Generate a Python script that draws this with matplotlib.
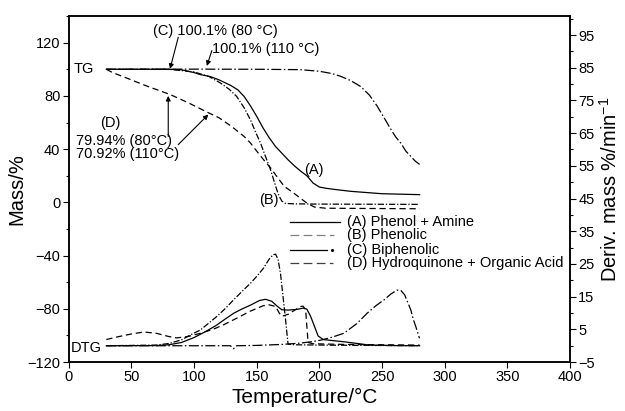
import matplotlib
matplotlib.use("Agg")
import matplotlib.pyplot as plt
import numpy as np

plt.rcParams['font.family'] = ['Liberation Sans', 'DejaVu Sans']
plt.rcParams['mathtext.fontset'] = 'custom'
plt.rcParams['mathtext.rm'] = 'Liberation Sans'

# ---------------- TG data (left axis, Mass/%) ----------------
tgA_x = [30, 80, 90, 100, 105, 113, 120, 129, 135, 140, 145, 150, 155, 160, 165, 170, 175, 180, 185, 190, 195, 200, 206, 215, 225, 250, 280]
tgA_y = [100, 100, 99.6, 97.5, 96, 94.5, 92, 88, 84.5, 79.5, 72.5, 64.6, 56, 48.5, 42, 37, 32, 27.5, 23.5, 20, 14.5, 11.5, 10.5, 9.4, 8.3, 6.5, 5.8]

tgB_x = [30, 80, 100, 112, 121, 128, 134, 140, 145, 149, 153, 157, 161, 164, 166, 168, 170, 173, 180, 200, 240, 280]
tgB_y = [100, 100, 98, 94.5, 89.7, 85, 79.6, 71, 62, 53, 44.6, 34.5, 24.6, 15.5, 9.5, 4.5, 1, -0.8, -1.1, -1.3, -1.4, -1.5]

tgC_x = [30, 100, 150, 185, 200, 210, 217, 225, 233, 240, 246, 252, 257, 261, 265, 269, 273, 276.5, 280]
tgC_y = [100, 100.1, 100, 99.7, 98.5, 96.8, 94.7, 91.5, 87, 80.5, 72.5, 63, 55, 49, 44.5, 38.5, 34.5, 31, 28.5]

tgD_x = [30, 35, 46, 62, 81, 95, 110, 120, 130, 140, 145, 150, 155.5, 161, 166, 172, 179.5, 185, 190, 196, 205, 240, 280]
tgD_y = [100, 97.5, 93.5, 87.5, 81, 75, 68, 63.5, 57, 49.5, 44.6, 38.5, 32, 26, 19.5, 12, 7, 3, -0.5, -3.5, -4.4, -4.6, -4.8]

# ---------------- DTG data (right axis, Deriv. mass %/min-1) ----------------
dtgA_x = [30, 70, 80, 90, 100, 110, 118, 125, 131.5, 138, 145, 152, 157, 162, 166, 170, 175, 182, 187, 190, 193, 196, 199, 203, 210, 220, 230, 240, 260, 280]
dtgA_y = [0, 0.05, 0.3, 1.0, 2.5, 4.5, 6.3, 8.2, 9.9, 11.2, 12.4, 13.8, 14.2, 13.6, 12.2, 11, 10.9, 11.1, 11.5, 11.2, 9, 6, 3, 1.9, 1.6, 1.2, 0.7, 0.2, 0.05, 0]

dtgB_x = [30, 70, 80, 90, 97, 105, 118, 125, 131.5, 138, 145, 150, 155, 160, 163, 165, 167, 169, 171, 173, 175, 180, 200, 280]
dtgB_y = [0, 0.2, 0.7, 1.8, 3.3, 4.8, 8.9, 11.4, 14, 16.5, 19.1, 21.2, 23.5, 26.5, 27.8, 28, 26.5, 22, 15, 8, 0.5, 0.3, 0.2, 0]

dtgC_x = [30, 125, 129, 131.5, 134, 150, 170, 185, 195, 201, 210, 219.5, 230, 238, 245, 251.5, 257, 262, 265, 268, 271, 273, 275, 277, 279.5, 280]
dtgC_y = [0, 0, 0, -0.9, 0, 0.1, 0.4, 0.8, 1.3, 1.7, 2.6, 3.8, 6.8, 9.9, 12.2, 14, 15.8, 17, 16.9, 15.6, 12.8, 10.9, 8, 5.8, 2.7, 2.3]

dtgD_x = [30, 40, 50, 60, 70, 80, 86, 95, 105, 115, 123, 135, 145, 155, 160, 165, 168, 170, 175, 180, 185, 187, 189, 190, 191, 195, 220, 280]
dtgD_y = [1.9, 2.8, 3.6, 4.2, 3.8, 2.8, 2.4, 2.8, 3.8, 5.0, 6.3, 8.6, 10.6, 12.2, 12.5, 12, 10, 9, 9.6, 10.8, 12, 12.1, 11, 6, 1, 0.6, 0.4, 0.2]

legend_labels = ["(A) Phenol + Amine", "(B) Phenolic", "(C) Biphenolic", "(D) Hydroquinone + Organic Acid"]

x_ticks = [0, 50, 100, 150, 200, 250, 300, 350, 400]
left_ticks = [-120, -80, -40, 0, 40, 80, 120]
right_ticks = [-5, 5, 15, 25, 35, 45, 55, 65, 75, 85, 95]

# ---------------- styles ----------------
lw = 0.9
styA = dict(color='black', lw=lw, linestyle='-')
styB = dict(color='black', lw=lw, linestyle=(0, (5, 1.5, 1, 1.5)))
styC = dict(color='black', lw=lw, linestyle=(0, (8, 2, 1.2, 2)))
styD = dict(color='black', lw=lw, linestyle=(0, (5, 3)))

fig = plt.figure(figsize=(6.25, 4.11), dpi=100)
ax = fig.add_axes([0.110, 0.119, 0.802, 0.842])
ax2 = ax.twinx()

ax.plot(tgA_x, tgA_y, **styA)
ax.plot(tgB_x, tgB_y, **styB)
ax.plot(tgC_x, tgC_y, **styC)
ax.plot(tgD_x, tgD_y, **styD)

ax2.plot(dtgA_x, dtgA_y, **styA)
ax2.plot(dtgB_x, dtgB_y, **styB)
ax2.plot(dtgC_x, dtgC_y, **styC)
ax2.plot(dtgD_x, dtgD_y, **styD)

ax.set_xlim(0, 400)
ax.set_ylim(-120, 140)
ax2.set_ylim(-5, 100.8)

ax.set_xticks(x_ticks)
ax.set_yticks(left_ticks)
ax.set_yticks(np.arange(-120, 141, 20), minor=True)
ax2.set_yticks(right_ticks)
ax2.set_yticks(np.arange(-5, 101, 5), minor=True)

tick_fs = 10.5
ax.tick_params(axis='both', direction='out', length=4, width=0.8, labelsize=tick_fs, pad=2)
ax.tick_params(axis='y', which='minor', direction='out', length=2.5, width=0.8)
ax2.tick_params(axis='y', direction='out', length=4, width=0.8, labelsize=tick_fs, pad=2)
ax2.tick_params(axis='y', which='minor', direction='out', length=2.5, width=0.8)
ax.set_yticklabels(['\u2212120', '\u221280', '\u221240', '0', '40', '80', '120'])
ax2.set_yticklabels(['\u22125'] + [str(v) for v in right_ticks[1:]])

for a in (ax, ax2):
    for s in a.spines.values():
        s.set_linewidth(1.1)

ax.set_xlabel('Temperature/\u00b0C', fontsize=15, labelpad=0)
ax.xaxis.set_label_coords(0.471, -0.075)
ax.set_ylabel('Mass/%', fontsize=14.5, labelpad=1)
ax2.set_ylabel('Deriv. mass %/min$^{\u22121}$', fontsize=14.5, labelpad=3)

ann_fs = 10.5
ax.text(3.5, 100, 'TG', fontsize=ann_fs, va='center', ha='left')
ax2.text(1.5, -0.6, 'DTG', fontsize=ann_fs, va='center', ha='left')

arrowprops = dict(arrowstyle='-|>', color='black', lw=0.8, mutation_scale=7, shrinkA=0, shrinkB=0)
ax.text(67.5, 129, '(C) 100.1% (80 \u00b0C)', fontsize=ann_fs, va='center', ha='left')
ax.annotate('', xy=(80.8, 100.3), xytext=(87.4, 124), arrowprops=arrowprops)
ax.text(114, 115.5, '100.1% (110 \u00b0C)', fontsize=ann_fs, va='center', ha='left')
ax.annotate('', xy=(110.2, 102.5), xytext=(114.2, 114), arrowprops=arrowprops)

ax.text(32.8, 60, '(D)', fontsize=ann_fs, va='center', ha='center')
ax.text(5.5, 46.4, '79.94% (80\u00b0C)', fontsize=ann_fs, va='center', ha='left')
ax.text(5.5, 36.6, '70.92% (110\u00b0C)', fontsize=ann_fs, va='center', ha='left')
ax.annotate('', xy=(79.4, 80), xytext=(79.4, 49.5), arrowprops=arrowprops)
ax.annotate('', xy=(111.4, 66), xytext=(87.4, 43.4), arrowprops=arrowprops)

ax.text(196, 24.5, '(A)', fontsize=ann_fs, va='center', ha='center')
ax.text(167.5, 1.5, '(B)', fontsize=ann_fs, va='center', ha='right')

# ---------------- legend (drawn in axes fractions) ----------------
leg_rows = [0.4055, 0.367, 0.3237, 0.2853]
tr = ax.transAxes
ax.plot([0.442, 0.542], [leg_rows[0]] * 2, transform=tr, color='black', lw=lw)
ax.plot([0.442, 0.530], [leg_rows[1]] * 2, transform=tr, color='#808080', lw=lw, linestyle=(0, (7, 3.5)))
ax.plot([0.442, 0.516], [leg_rows[2]] * 2, transform=tr, color='black', lw=lw)
ax.plot([0.525], [leg_rows[2]], transform=tr, color='black', marker='o', ms=1.2, lw=0)
ax.plot([0.442, 0.528], [leg_rows[3]] * 2, transform=tr, color='#404040', lw=lw, linestyle=(0, (7, 3.5)))
for yr, lab in zip(leg_rows, legend_labels):
    ax.text(0.555, yr, lab, transform=tr, fontsize=ann_fs, va='center', ha='left')

fig.savefig('out.png', dpi=100)
